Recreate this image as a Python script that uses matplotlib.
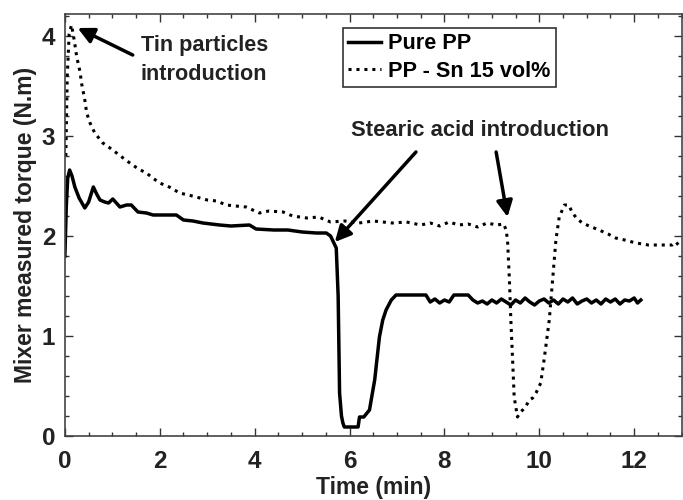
import matplotlib
matplotlib.use("Agg")
import matplotlib.pyplot as plt
from matplotlib.ticker import MultipleLocator

# torque curves, time in min, torque in N.m
pp_time = [0.0, 0.03, 0.06, 0.1, 0.15, 0.21, 0.3, 0.42, 0.5, 0.6, 0.67, 0.74, 0.84, 0.92, 1.01,
           1.16, 1.3, 1.4, 1.54, 1.72, 1.86, 2.35, 2.5, 2.7, 2.91, 3.26, 3.5, 3.89, 4.03, 4.4,
           4.7, 5.0, 5.3, 5.51, 5.6, 5.65, 5.72, 5.76, 5.79, 5.83, 5.86, 5.89, 6.18, 6.21, 6.3,
           6.42, 6.53, 6.63, 6.7, 6.77, 6.88, 6.98, 7.3, 7.61, 7.7, 7.8, 7.9, 8.0, 8.1, 8.2,
           8.5, 8.6, 8.7, 8.8, 8.9, 9.0, 9.1, 9.2, 9.3, 9.4, 9.5, 9.6, 9.7, 9.8, 9.9, 10.0,
           10.1, 10.2, 10.3, 10.4, 10.5, 10.6, 10.7, 10.8, 10.9, 11.0, 11.1, 11.2, 11.3, 11.4,
           11.5, 11.6, 11.7, 11.8, 11.9, 12.0, 12.07, 12.14]
pp_torque = [1.80, 2.30, 2.58, 2.66, 2.60, 2.49, 2.38, 2.28, 2.34, 2.49, 2.42, 2.36, 2.34, 2.33, 2.37,
             2.29, 2.31, 2.31, 2.24, 2.23, 2.21, 2.21, 2.16, 2.15, 2.13, 2.11, 2.10, 2.11, 2.07, 2.06,
             2.06, 2.04, 2.03, 2.03, 2.00, 1.95, 1.88, 1.40, 0.43, 0.20, 0.13, 0.09, 0.09, 0.19, 0.19,
             0.26, 0.56, 0.99, 1.16, 1.26, 1.36, 1.41, 1.41, 1.41, 1.34, 1.37, 1.33, 1.36, 1.34, 1.41,
             1.41, 1.36, 1.33, 1.35, 1.32, 1.36, 1.33, 1.37, 1.34, 1.31, 1.36, 1.33, 1.38, 1.34, 1.31, 1.35,
             1.37, 1.33, 1.36, 1.32, 1.37, 1.34, 1.38, 1.32, 1.35, 1.37, 1.33, 1.36, 1.32, 1.37,
             1.34, 1.37, 1.32, 1.36, 1.35, 1.38, 1.33, 1.36]

sn_time = [0.02, 0.05, 0.09, 0.14, 0.2, 0.25, 0.32, 0.35, 0.42, 0.46, 0.53, 0.63, 0.8, 0.95,
           1.09, 1.2, 1.37, 1.55, 1.72, 1.85, 2.0, 2.2, 2.42, 2.6, 2.77, 3.0, 3.2, 3.4, 3.6,
           3.82, 4.1, 4.3, 4.6, 4.8, 5.1, 5.35, 5.6, 5.9, 6.2, 6.5, 6.9, 7.2, 7.5, 7.7,
           7.9, 8.1, 8.3, 8.5, 8.7, 8.9, 9.1, 9.25, 9.3, 9.33, 9.37, 9.4, 9.44, 9.47, 9.54,
           9.6, 9.65, 9.72, 9.79, 9.86, 9.93, 10.03, 10.1, 10.21, 10.28, 10.35, 10.42, 10.53, 10.62,
           10.7, 10.8, 10.91, 11.05, 11.26, 11.45, 11.61, 11.8, 12.04, 12.3, 12.6, 12.8, 12.88, 12.95]
sn_torque = [2.80, 3.60, 4.02, 4.11, 3.95, 3.79, 3.64, 3.53, 3.36, 3.23, 3.13, 3.03, 2.93, 2.88,
             2.83, 2.79, 2.73, 2.67, 2.63, 2.58, 2.53, 2.49, 2.43, 2.41, 2.39, 2.36, 2.35, 2.31, 2.30,
             2.29, 2.23, 2.25, 2.24, 2.20, 2.18, 2.19, 2.14, 2.15, 2.13, 2.15, 2.13, 2.14, 2.11, 2.13,
             2.10, 2.14, 2.11, 2.12, 2.09, 2.13, 2.11, 2.12, 2.06, 1.96, 1.56, 1.16, 0.73, 0.39, 0.19,
             0.24, 0.26, 0.30, 0.36, 0.38, 0.43, 0.53, 0.76, 1.16, 1.56, 1.96, 2.19, 2.31, 2.31,
             2.23, 2.17, 2.13, 2.10, 2.06, 2.02, 1.98, 1.96, 1.93, 1.91, 1.91, 1.91, 1.94, 1.90]

series_labels = ["Pure PP", "PP - Sn 15 vol%"]

plt.rcParams['font.family'] = ['Liberation Sans', 'DejaVu Sans']
plt.rcParams['font.weight'] = 'bold'

fig = plt.figure(figsize=(6.83, 5.0), dpi=100)
ax = fig.add_axes([0.095, 0.128, 0.903, 0.844])

ax.plot(pp_time, pp_torque, color='black', lw=2.5, label=series_labels[0])
ax.plot(sn_time, sn_torque, color='black', lw=2.2, linestyle=(0, (1, 1.6)),
        label=series_labels[1])

ax.set_xlim(0, 13)
ax.set_ylim(0, 4.22)
ax.xaxis.set_major_locator(MultipleLocator(2))
ax.xaxis.set_minor_locator(MultipleLocator(0.5))
ax.yaxis.set_major_locator(MultipleLocator(1))
ax.yaxis.set_minor_locator(MultipleLocator(0.2))
ax.tick_params(which='both', direction='in', top=True, right=True, width=1.0, colors='#333333',
               labelcolor='#222222', labelsize=17.5)
ax.tick_params(which='major', length=6)
ax.tick_params(which='minor', length=3)
ax.tick_params(axis='x', pad=10)
ax.tick_params(axis='y', pad=7)
for s in ax.spines.values():
    s.set_linewidth(1.2)
    s.set_color('#444444')

ax.set_xlabel("Time (min)", fontsize=16.5, fontweight='bold', labelpad=2, color='#222222')
ax.set_ylabel("Mixer measured torque (N.m)", fontsize=16.5, fontweight='bold', labelpad=3,
              color='#222222')

leg = ax.legend(loc='upper left', bbox_to_anchor=(0.451, 0.967), fontsize=15.6, handlelength=1.52,
                handletextpad=0.32, borderpad=0.25, labelspacing=0.3, borderaxespad=0,
                fancybox=False, framealpha=1)
leg.get_frame().set_edgecolor('#333333')
leg.get_frame().set_linewidth(1.2)

arrow = dict(arrowstyle='-|>', color='black', lw=2.5, mutation_scale=24, shrinkA=0, shrinkB=0)

# tin particle feed
ax.text(1.6, 3.76, "Tin particles\nintroduction", fontsize=15.6, fontweight='bold',
        ha='left', va='center', color='#222222', linespacing=1.45)
ax.annotate("", xy=(0.27, 4.08), xytext=(1.43, 3.81), arrowprops=arrow)

# stearic acid feed, one arrow per curve
ax.text(8.74, 3.05, "Stearic acid introduction", ha='center', va='center',
        fontsize=15.8, fontweight='bold', color='#222222')
ax.annotate("", xy=(5.69, 1.94), xytext=(7.40, 2.84), arrowprops=arrow)
ax.annotate("", xy=(9.33, 2.19), xytext=(9.09, 2.84), arrowprops=arrow)

fig.savefig("out.png", dpi=100)
